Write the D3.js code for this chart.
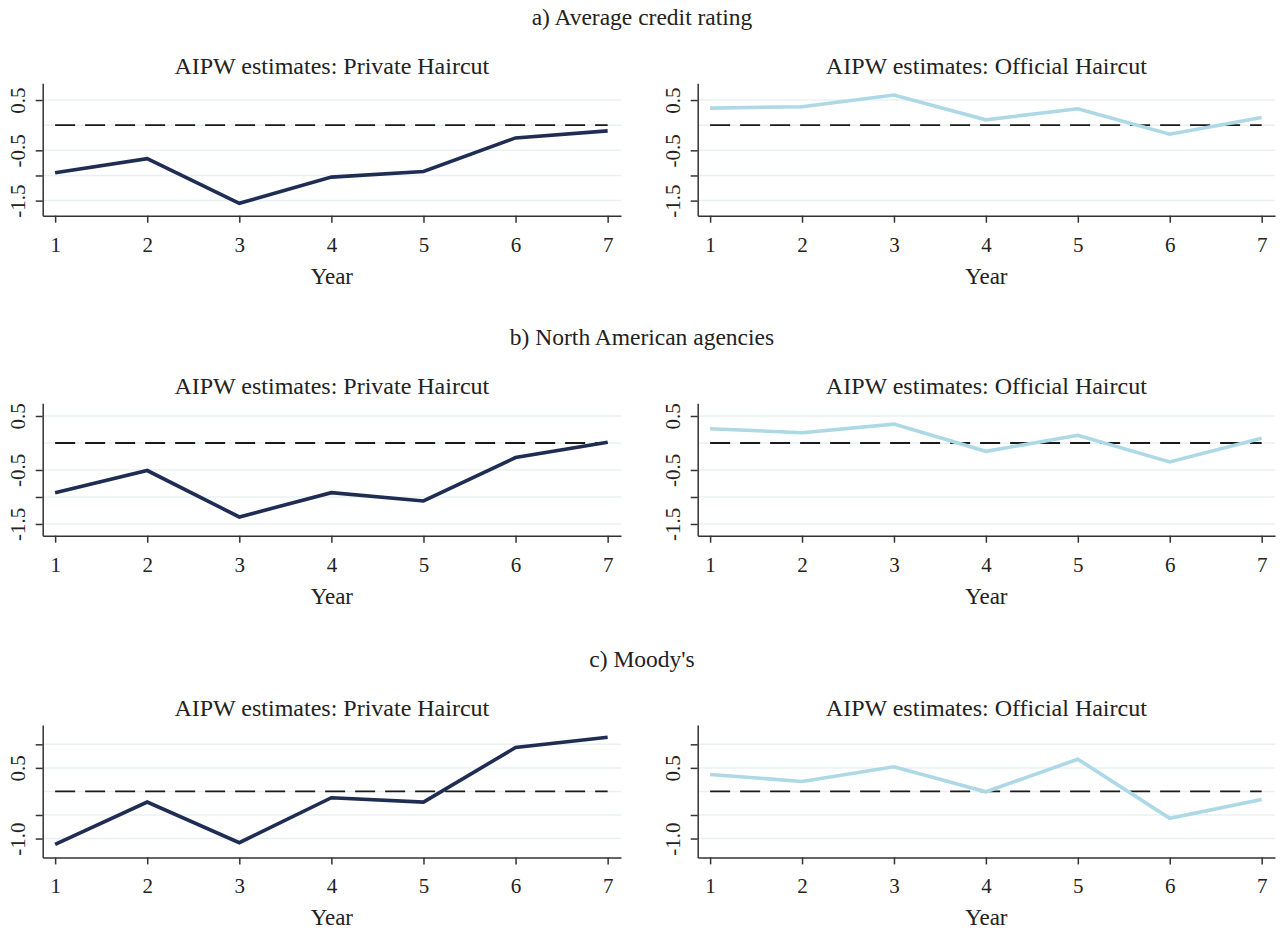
<!DOCTYPE html>
<html>
<head>
<meta charset="utf-8">
<script src="https://cdn.jsdelivr.net/npm/d3@7"></script>
<style>
  body { margin: 0; background: #fff; }
  svg text { font-family: "Liberation Serif", "DejaVu Serif", serif; fill: #222; }
</style>
</head>
<body>
<svg id="chart" width="1284" height="934"></svg>
<script>
// Data
var years = [1, 2, 3, 4, 5, 6, 7];

var ratingPrivate  = [-0.945, -0.665, -1.553, -1.033, -0.92, -0.253, -0.113];
var ratingOfficial = [0.34, 0.367, 0.6, 0.107, 0.327, -0.18, 0.153];
var naPrivate      = [-0.92, -0.51, -1.37, -0.92, -1.074, -0.27, 0.013];
var naOfficial     = [0.265, 0.19, 0.35, -0.154, 0.142, -0.352, 0.087];
var moodysPrivate  = [-1.123, -0.226, -1.088, -0.134, -0.226, 0.932, 1.15];
var moodysOfficial = [0.36, 0.212, 0.523, -0.007, 0.684, -0.572, -0.17];

var sectionTitles = ["a) Average credit rating", "b) North American agencies", "c) Moody's"];
var panelTitles = ["AIPW estimates: Private Haircut", "AIPW estimates: Official Haircut"];
var xTitle = "Year";

// y ticks per row: gridlines, tick marks, labelled values
var yGrid   = [[0.5, 0, -0.5, -1, -1.5], [0.5, 0, -0.5, -1, -1.5], [1, 0.5, 0, -0.5, -1]];
var yTicks  = [[0.5, -0.5, -1, -1.5], [0.5, -0.5, -1, -1.5], [1, 0.5, -0.5, -1]];
var yLabels = [[0.5, -0.5, -1.5], [0.5, -0.5, -1.5], [0.5, -1]];
var yDomains = [[-1.8, 0.833], [-1.717, 0.735], [-1.40, 1.41]];
var xDomain = [0.865, 7.145];

var rows = [
    [ratingPrivate, ratingOfficial],
    [naPrivate, naOfficial],
    [moodysPrivate, moodysOfficial]
];

var colors = ["#1f2c53", "#add8e6"];

// layout
var colX = [[42.7, 621], [697.7, 1275]];
var rowTop = [83.3, 403.3, 725];
var plotH = 132.4;

var svg = d3.select("#chart");

rows.forEach(function(series, r) {
    var top = rowTop[r];
    var bottom = top + plotH;

    // section title
    svg.append("text")
        .attr("x", 642)
        .attr("y", top - 58)
        .style("text-anchor", "middle")
        .style("font-size", "23.5px")
        .text(sectionTitles[r]);

    series.forEach(function(vals, c) {
        var x = d3.scaleLinear().domain(xDomain).range(colX[c]);
        var y = d3.scaleLinear().domain(yDomains[r]).range([bottom, top]);
        var g = svg.append("g");

        // gridlines
        g.selectAll("line.grid")
            .data(yGrid[r])
            .enter()
            .append("line")
                .attr("class", "grid")
                .attr("x1", colX[c][0])
                .attr("x2", colX[c][1])
                .attr("y1", function(d) { return y(d); })
                .attr("y2", function(d) { return y(d); })
                .attr("stroke", "#eaf0f1")
                .attr("stroke-width", 1.5);

        // zero line
        g.append("line")
            .attr("x1", x(years[0]))
            .attr("x2", x(years[years.length - 1]))
            .attr("y1", y(0))
            .attr("y2", y(0))
            .attr("stroke", "#1a1a1a")
            .attr("stroke-width", 1.8)
            .attr("stroke-dasharray", "20,10");

        // estimate line
        var line = d3.line()
            .x(function(d, i) { return x(years[i]); })
            .y(function(d) { return y(d); });
        g.append("path")
            .datum(vals)
            .attr("d", line)
            .attr("fill", "none")
            .attr("stroke", colors[c])
            .attr("stroke-width", 3.6);

        // axes
        var xAxis = g.append("g")
            .attr("transform", "translate(0," + bottom + ")")
            .call(d3.axisBottom(x).tickValues(years).tickSize(7).tickSizeOuter(0).tickPadding(14)
                .tickFormat(d3.format("d")));
        xAxis.selectAll("text").style("font-size", "21px");

        var yAxis = g.append("g")
            .attr("transform", "translate(" + colX[c][0] + ",0)")
            .call(d3.axisLeft(y).tickValues(yTicks[r]).tickSize(7).tickSizeOuter(0)
                .tickFormat(function(d) { return yLabels[r].indexOf(d) >= 0 ? d.toFixed(1) : ""; }));
        yAxis.selectAll("text")
            .attr("transform", "rotate(-90)")
            .attr("x", 0)
            .attr("y", -17.5)
            .attr("dy", 0)
            .style("text-anchor", "middle")
            .style("font-size", "21px");

        [xAxis, yAxis].forEach(function(a) {
            a.select(".domain").attr("stroke", "#333").attr("stroke-width", 1.5);
            a.selectAll(".tick line").attr("stroke", "#333").attr("stroke-width", 1.5);
        });

        // panel title
        svg.append("text")
            .attr("x", (colX[c][0] + colX[c][1]) / 2)
            .attr("y", top - 9)
            .style("text-anchor", "middle")
            .style("font-size", "24px")
            .text(panelTitles[c]);

        // x axis title
        svg.append("text")
            .attr("x", (colX[c][0] + colX[c][1]) / 2)
            .attr("y", bottom + 68)
            .style("text-anchor", "middle")
            .style("font-size", "23px")
            .text(xTitle);
    });
});
</script>
</body>
</html>
